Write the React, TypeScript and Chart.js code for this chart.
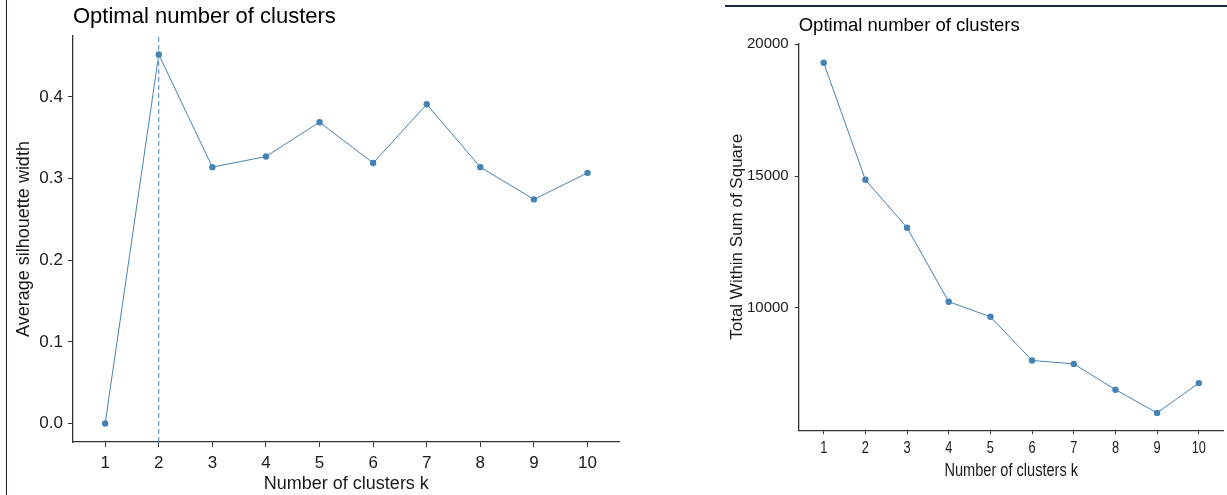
import React, { useEffect, useRef } from "react";
import { Chart, registerables } from "chart.js";

Chart.register(...registerables);

// ---- data ----
const kValues = [1, 2, 3, 4, 5, 6, 7, 8, 9, 10];
const silhouetteWidth = [0, 0.452, 0.314, 0.327, 0.369, 0.319, 0.391, 0.314, 0.2745, 0.307];
const withinSS = [19300, 14860, 13040, 10230, 9660, 8000, 7870, 6890, 6010, 7140];
const silhouetteTicks = [0, 0.1, 0.2, 0.3, 0.4];
const wssTicks = [10000, 15000, 20000];
const optimalK = 2;
const silhouetteRange = [-0.0226, 0.4746];
const wssRange = [5349, 20040];
const kRange = [0.4, 10.6];

const chartTitle = "Optimal number of clusters";
const xTitle = "Number of clusters k";
const silhouetteYTitle = "Average silhouette width";
const wssYTitle = "Total Within Sum of Square";

const STEEL = "#4682B4";
const AXIS = "#333333";
const TEXT = "#1a1a1a";
const SANS = "'Liberation Sans', Arial, Helvetica, sans-serif";

function toPoints(xs: number[], ys: number[]) {
  return xs.map((x, i) => ({ x, y: ys[i] }));
}

function useChart(ref: React.RefObject<HTMLCanvasElement | null>, make: (c: HTMLCanvasElement) => Chart) {
  useEffect(() => {
    if (!ref.current) return;
    const chart = make(ref.current);
    return () => chart.destroy();
  }, []);
}

function lineDataset(data: { x: number; y: number }[]) {
  return {
    data,
    borderColor: STEEL,
    backgroundColor: STEEL,
    borderWidth: 1,
    pointRadius: 3.2,
    pointHoverRadius: 3.2,
    pointBorderWidth: 0,
    pointBackgroundColor: STEEL,
    tension: 0,
  };
}

function makeSilhouette(canvas: HTMLCanvasElement) {
  return new Chart(canvas, {
    type: "line",
    data: {
      datasets: [
        lineDataset(toPoints(kValues, silhouetteWidth)) as any,
        {
          data: [
            { x: optimalK, y: silhouetteRange[0] },
            { x: optimalK, y: silhouetteRange[1] },
          ],
          borderColor: STEEL,
          borderWidth: 1,
          borderDash: [5, 3],
          pointRadius: 0,
          pointHoverRadius: 0,
        },
      ],
    },
    options: {
      animation: false,
      responsive: false,
      events: [],
      layout: { padding: { left: 0, top: 0, right: 20.3, bottom: 0 } },
      plugins: {
        legend: { display: false },
        tooltip: { enabled: false },
        title: {
          display: true,
          text: chartTitle,
          align: "start",
          fullSize: false,
          color: "#000",
          font: { family: SANS, size: 22, weight: "normal", lineHeight: 1.2 },
          padding: { top: 3.6, bottom: 6 },
        },
      },
      scales: {
        x: {
          type: "linear",
          min: kRange[0],
          max: kRange[1],
          afterBuildTicks: (s: any) => {
            s.ticks = kValues.map((v) => ({ value: v }));
          },
          afterFit: (s: any) => {
            s.height = 53;
          },
          grid: { drawOnChartArea: false, drawTicks: true, tickLength: 5, color: AXIS, lineWidth: 1 },
          border: { display: true, color: AXIS, width: 1.3 },
          ticks: {
            color: TEXT,
            font: { family: SANS, size: 17 },
            padding: 6.3,
            maxRotation: 0,
            autoSkip: false,
            callback: (v: any) => String(v),
          },
          title: {
            display: true,
            text: xTitle,
            color: TEXT,
            font: { family: SANS, size: 18, lineHeight: 1.2 },
            padding: { top: 0, bottom: 0 },
          },
        },
        y: {
          type: "linear",
          min: silhouetteRange[0],
          max: silhouetteRange[1],
          afterBuildTicks: (s: any) => {
            s.ticks = silhouetteTicks.map((v) => ({ value: v }));
          },
          afterFit: (s: any) => {
            s.width = 73;
          },
          grid: { drawOnChartArea: false, drawTicks: true, tickLength: 5, color: AXIS, lineWidth: 1 },
          border: { display: true, color: AXIS, width: 1.3 },
          ticks: {
            color: TEXT,
            font: { family: SANS, size: 17 },
            padding: 5,
            autoSkip: false,
            callback: (v: any) => Number(v).toFixed(1),
          },
          title: {
            display: true,
            text: silhouetteYTitle,
            color: TEXT,
            font: { family: SANS, size: 18, lineHeight: 1.2 },
            padding: { top: 13.7, bottom: 4 },
          },
        },
      },
    } as any,
  });
}

// The right panel's x-axis text is horizontally condensed in the reference;
// draw those labels as real text with a horizontal squeeze.
const condensedXAxisText = {
  id: "condensedXAxisText",
  afterDraw(chart: any) {
    const { ctx, scales, chartArea } = chart;
    const xs = scales.x;
    const squeeze = 0.8;
    ctx.save();
    ctx.fillStyle = TEXT;
    ctx.textAlign = "center";
    ctx.textBaseline = "middle";
    ctx.font = `16px ${SANS}`;
    kValues.forEach((k) => {
      const px = xs.getPixelForValue(k);
      ctx.save();
      ctx.translate(px, chartArea.bottom + 18.5);
      ctx.scale(squeeze, 1);
      ctx.fillText(String(k), 0, 0);
      ctx.restore();
    });
    ctx.font = `18px ${SANS}`;
    ctx.save();
    ctx.translate((chartArea.left + chartArea.right) / 2, chartArea.bottom + 41);
    ctx.scale(0.81, 1);
    ctx.fillText(xTitle, 0, 0);
    ctx.restore();
    ctx.restore();
  },
};

function makeWSS(canvas: HTMLCanvasElement) {
  return new Chart(canvas, {
    type: "line",
    data: {
      datasets: [lineDataset(toPoints(kValues, withinSS)) as any],
    },
    plugins: [condensedXAxisText],
    options: {
      animation: false,
      responsive: false,
      events: [],
      layout: { padding: { left: 0, top: 0, right: 2.6, bottom: 0 } },
      plugins: {
        legend: { display: false },
        tooltip: { enabled: false },
        title: {
          display: true,
          text: chartTitle,
          align: "start",
          fullSize: false,
          color: "#000",
          font: { family: SANS, size: 18.5, weight: "normal", lineHeight: 1.2 },
          padding: { top: 14.8, bottom: 6.3 },
        },
      },
      scales: {
        x: {
          type: "linear",
          min: kRange[0],
          max: kRange[1],
          afterBuildTicks: (s: any) => {
            s.ticks = kValues.map((v) => ({ value: v }));
          },
          afterFit: (s: any) => {
            s.height = 64.7;
          },
          grid: { drawOnChartArea: false, drawTicks: true, tickLength: 4, color: AXIS, lineWidth: 1 },
          border: { display: true, color: AXIS, width: 1.3 },
          ticks: { display: false },
          title: { display: false },
        },
        y: {
          type: "linear",
          min: wssRange[0],
          max: wssRange[1],
          afterBuildTicks: (s: any) => {
            s.ticks = wssTicks.map((v) => ({ value: v }));
          },
          afterFit: (s: any) => {
            s.width = 78.7;
          },
          grid: { drawOnChartArea: false, drawTicks: true, tickLength: 4, color: AXIS, lineWidth: 1 },
          border: { display: true, color: AXIS, width: 1.3 },
          ticks: {
            color: TEXT,
            font: { family: SANS, size: 15 },
            padding: 6,
            autoSkip: false,
            callback: (v: any) => String(v),
          },
          title: {
            display: true,
            text: wssYTitle,
            color: TEXT,
            font: { family: SANS, size: 17, lineHeight: 1.2 },
            padding: { top: 7.6, bottom: 0 },
          },
        },
      },
    } as any,
  });
}

export default function App() {
  const leftRef = useRef<HTMLCanvasElement>(null);
  const rightRef = useRef<HTMLCanvasElement>(null);
  useChart(leftRef, makeSilhouette);
  useChart(rightRef, makeWSS);

  return (
    <div
      style={{
        position: "absolute",
        left: 0,
        top: 0,
        width: 1227,
        height: 495,
        background: "#fff",
        overflow: "hidden",
      }}
    >
      <div style={{ position: "absolute", left: 6, top: 0, width: 1, height: 495, background: "#1b2230" }} />
      <div style={{ position: "absolute", left: 725, top: 5, width: 502, height: 2, background: "#1c2b45" }} />
      <canvas
        ref={leftRef}
        width={640}
        height={495}
        style={{ position: "absolute", left: 0, top: 0, width: 640, height: 495, display: "block" }}
      />
      <canvas
        ref={rightRef}
        width={507}
        height={495}
        style={{ position: "absolute", left: 720, top: 0, width: 507, height: 495, display: "block" }}
      />
    </div>
  );
}
